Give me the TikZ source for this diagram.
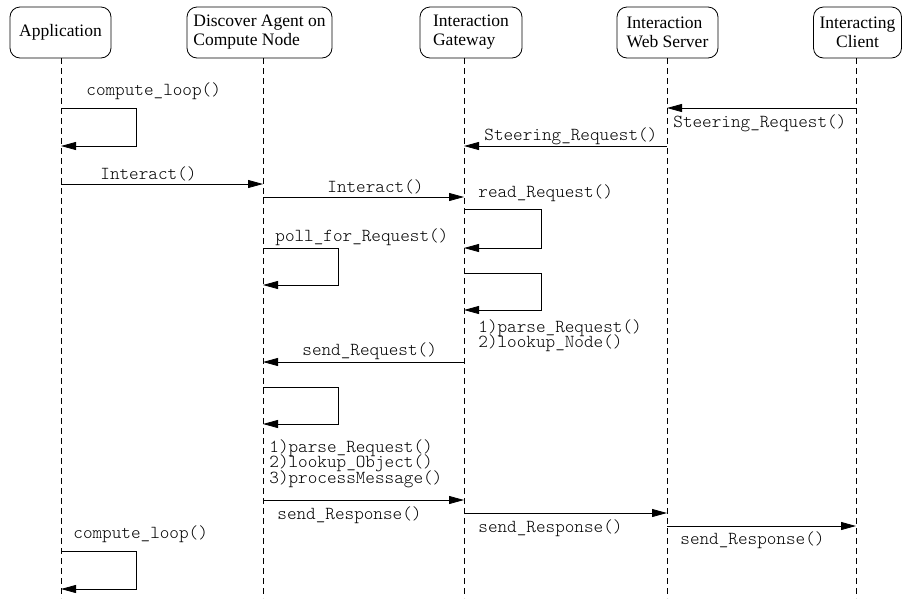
\documentclass[tikz,border=0pt]{standalone}
\usepackage{fontspec}
\setmainfont{Liberation Serif}
\setmonofont{Latin Modern Mono Light}
\usetikzlibrary{arrows.meta}

\newcommand\callfont{\fontsize{18.3}{15.5}\selectfont\ttfamily\lineskiplimit=-20pt\relax}
\tikzset{every picture/.style={line width=0.8pt}}

\begin{document}
\begin{tikzpicture}[x=1pt, y=-1pt,
                    actor/.style={draw, rounded corners=10pt, minimum height=51pt,
                                  inner sep=3pt, font=\fontsize{17.5}{19}\selectfont},
                    life/.style={dash pattern=on 6pt off 4pt, line width=0.6pt},
                    msg/.style={-{Triangle[length=15pt,width=8pt]}},
                    call/.style={inner sep=0pt, align=left, font=\callfont}]
  \useasboundingbox (0,0) rectangle (903,598);

  % actors
  \node[actor, minimum width=101pt, align=center] (app)    at (60.5,32.5)  {Application};
  \node[actor, minimum width=145pt, align=left]   (agent)  at (259.5,32.5) {Discover Agent on\\Compute Node};
  \node[actor, minimum width=102pt, align=left]   (gw)     at (471,32.5)   {Interaction\\Gateway};
  \node[actor, minimum width=101pt, align=left]   (web)    at (667.5,32.5) {Interaction\\Web Server};
  \node[actor, minimum width=88pt,  align=center] (client) at (857.5,32.5) {Interacting\\Client};

  % life lines
  \foreach \n/\x in {app/61, agent/263, gw/464, web/667, client/856}{
    \coordinate (\n L) at (\x,58);
    \draw[life] (\n L) -- (\x,598);
  }

  % steering request
  \draw[msg] (appL |- 0,108) -| (136,146) -- (appL |- 0,146);
  \node[call, anchor=west] (loopA) at (86,91) {compute\_loop()};
  \draw[msg] (clientL |- 0,108) -- (webL |- 0,108);
  \node[call, anchor=west] (steerB) at (673,123) {Steering\_Request()};
  \draw[msg] (webL |- 0,146) -- (gwL |- 0,146);
  \node[call, anchor=west] (steerA) at (484,136) {Steering\_Request()};

  % interact
  \draw[msg] (appL |- 0,184) -- (agentL |- 0,184);
  \node[call, anchor=west] (interA) at (100,174) {Interact()};
  \draw[msg] (agentL |- 0,197) -- (gwL |- 0,197);
  \node[call, anchor=west] (interB) at (327,187) {Interact()};

  % gateway handles request
  \draw[msg] (gwL |- 0,209) -| (541,248) -- (gwL |- 0,248);
  \node[call, anchor=west] (readReq) at (478,193) {read\_Request()};
  \draw[msg] (agentL |- 0,248) -| (338,285) -- (agentL |- 0,285);
  \node[call, anchor=west] (poll) at (275,237) {poll\_for\_Request()};
  \draw[msg] (gwL |- 0,273) -| (541,310) -- (gwL |- 0,310);
  \node[call, anchor=north west] (gwSteps) at (478,319) {1)parse\_Request()\\2)lookup\_Node()};
  \draw[msg] (gwL |- 0,362) -- (agentL |- 0,362);
  \node[call, anchor=west] (sendReq) at (302,351) {send\_Request()};

  % agent handles request
  \draw[msg] (agentL |- 0,387) -| (338,424) -- (agentL |- 0,424);
  \node[call, anchor=north west] (agSteps) at (269,439) {1)parse\_Request()\\2)lookup\_Object()\\3)processMessage()};

  % response
  \draw[msg] (agentL |- 0,500) -- (gwL |- 0,500);
  \node[call, anchor=west] (respA) at (277,515) {send\_Response()};
  \draw[msg] (gwL |- 0,513) -- (webL |- 0,513);
  \node[call, anchor=west] (respB) at (478,528) {send\_Response()};
  \draw[msg] (webL |- 0,526) -- (clientL |- 0,526);
  \node[call, anchor=west] (respC) at (680,540) {send\_Response()};

  % back to computing
  \draw[msg] (appL |- 0,551) -| (136,589) -- (appL |- 0,589);
  \node[call, anchor=west] (loopB) at (73,534) {compute\_loop()};
\end{tikzpicture}
\end{document}
